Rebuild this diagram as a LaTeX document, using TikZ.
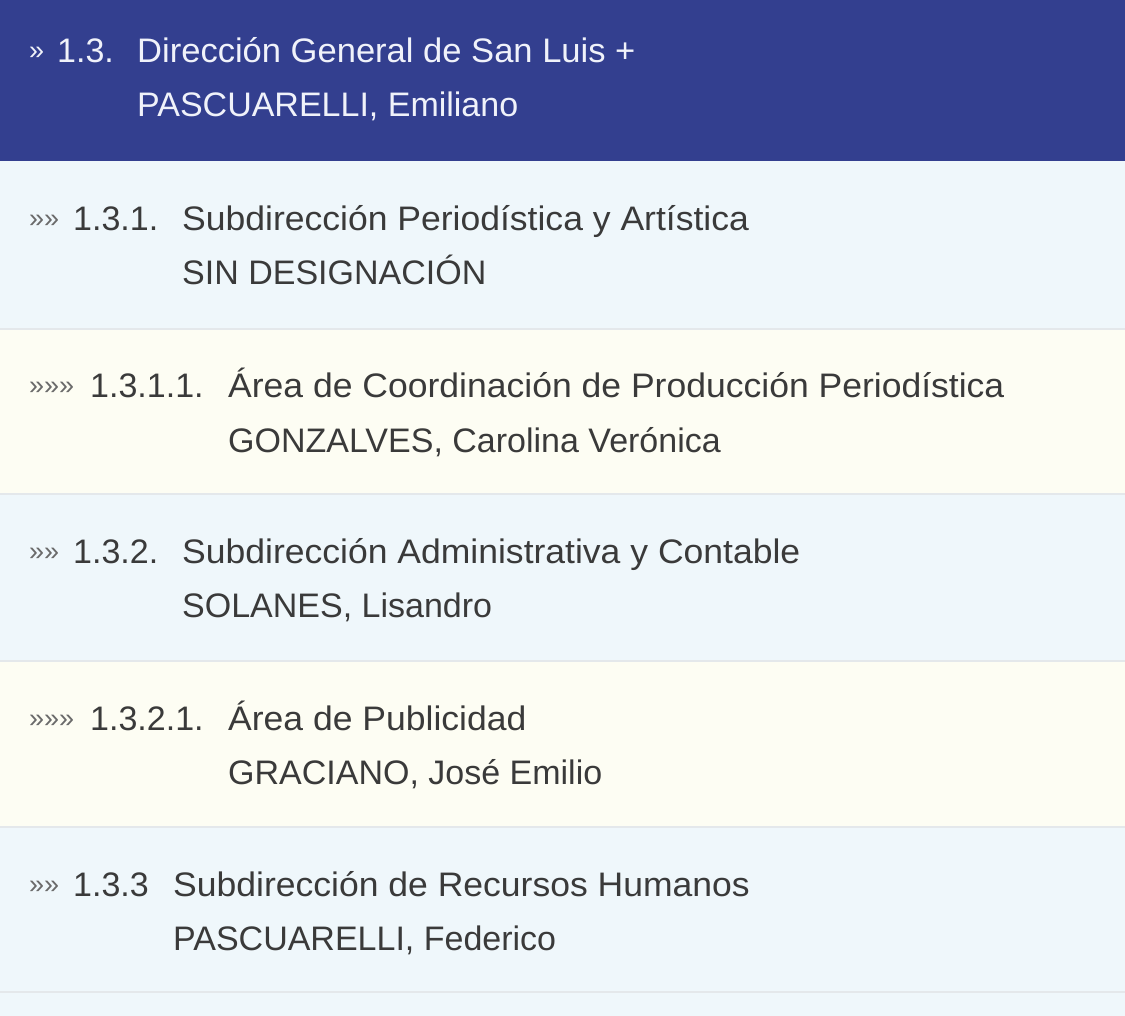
\documentclass[tikz,border=0pt]{standalone}
\usepackage{fontspec}
\setmainfont{Liberation Sans}
\definecolor{hdrblue}{HTML}{333F8F}
\definecolor{rowblue}{HTML}{EFF7FB}
\definecolor{rowcream}{HTML}{FDFDF3}
\definecolor{sepgray}{HTML}{E4E8EB}
\definecolor{txtgray}{HTML}{3A3A3A}
\definecolor{guilgray}{HTML}{6A6A6A}
\definecolor{hdrtxt}{HTML}{F0F2FA}
\tikzset{
  band/.style={fill=#1, draw=none},
  sepline/.style={draw=sepgray, line width=2pt},
  entry/.style={inner sep=0pt, anchor=base west, text=txtgray, font=\fontsize{34}{40}\selectfont},
  titl/.style={entry, font=\fontsize{34}{40}\selectfont\addfontfeature{FakeStretch=#1}},
  titl/.default=1.045,
  guil/.style={inner sep=0pt, anchor=base west, text=guilgray, font=\fontsize{27}{30}\selectfont},
  hentry/.style={entry, text=hdrtxt},
  htitl/.style={titl=1.016, text=hdrtxt},
  hguil/.style={guil, text=hdrtxt},
}
\begin{document}
\begin{tikzpicture}[x=1pt,y=-1pt]
\useasboundingbox (0,0) rectangle (1125,1016);
% bands
\fill[band=hdrblue] (0,0) rectangle (1125,161);
\fill[band=rowblue] (0,161) rectangle (1125,329);
\fill[band=rowcream] (0,329) rectangle (1125,494);
\fill[band=rowblue] (0,494) rectangle (1125,661);
\fill[band=rowcream] (0,661) rectangle (1125,827);
\fill[band=rowblue] (0,827) rectangle (1125,1016);
\draw[sepline] (0,329) -- (1125,329);
\draw[sepline] (0,494) -- (1125,494);
\draw[sepline] (0,661) -- (1125,661);
\draw[sepline] (0,827) -- (1125,827);
\draw[sepline] (0,992) -- (1125,992);
% header
\node[hguil] (g0) at (29,60) {»};
\node[hentry] (n0) at (57,63) {1.3.};
\node[htitl] (t0) at (137,63) {Dirección General de San Luis +};
\node[hentry] (p0) at (137,117) {PASCUARELLI, Emiliano};
% row 1
\node[guil] (g1) at (29,228) {»»};
\node[entry] (n1) at (73,231) {1.3.1.};
\node[titl] (t1) at (182,231) {Subdirección Periodística y Artística};
\node[entry] (p1) at (182,285) {SIN DESIGNACIÓN};
% row 2
\node[guil] (g2) at (29,395) {»»»};
\node[entry] (n2) at (90,398) {1.3.1.1.};
\node[titl] (t2) at (228,398) {Área de Coordinación de Producción Periodística};
\node[entry] (p2) at (228,452) {GONZALVES, Carolina Verónica};
% row 3
\node[guil] (g3) at (29,560) {»»};
\node[entry] (n3) at (73,563) {1.3.2.};
\node[titl] (t3) at (182,563) {Subdirección Administrativa y Contable};
\node[entry] (p3) at (182,617) {SOLANES, Lisandro};
% row 4
\node[guil] (g4) at (29,727) {»»»};
\node[entry] (n4) at (90,730) {1.3.2.1.};
\node[titl] (t4) at (228,730) {Área de Publicidad};
\node[entry] (p4) at (228,784) {GRACIANO, José Emilio};
% row 5
\node[guil] (g5) at (29,893) {»»};
\node[entry] (n5) at (73,896) {1.3.3};
\node[titl] (t5) at (173,896) {Subdirección de Recursos Humanos};
\node[entry] (p5) at (173,950) {PASCUARELLI, Federico};
\end{tikzpicture}
\end{document}
